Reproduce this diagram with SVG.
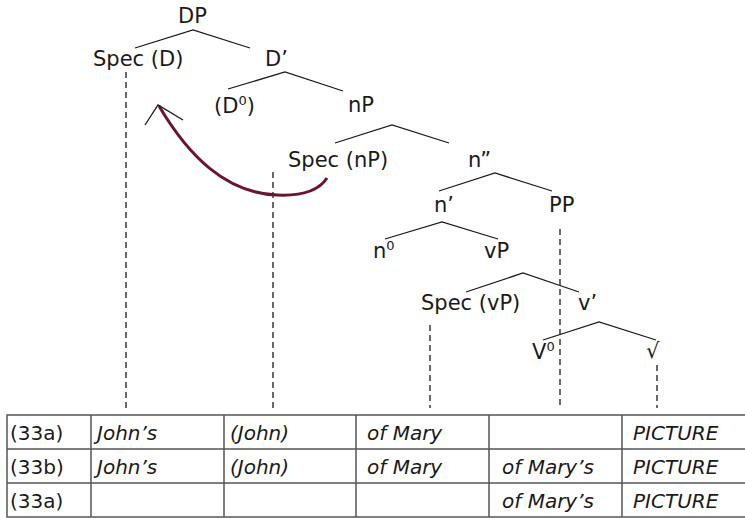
<svg xmlns="http://www.w3.org/2000/svg" width="745" height="518" viewBox="0 0 745 518">
<style>
.t{font-family:"DejaVu Sans","Liberation Sans",sans-serif;font-size:21px;fill:#1a1a1a}
.c{font-family:"DejaVu Sans","Liberation Sans",sans-serif;font-size:20px;fill:#1a1a1a}
.i{font-style:italic}
.b{stroke:#1a1a1a;stroke-width:1.3;fill:none}
.d{stroke:#1a1a1a;stroke-width:1.3;fill:none;stroke-dasharray:6 4}
.g{stroke:#555;stroke-width:1.5;fill:none}
</style>
<rect width="745" height="518" fill="#fff"/>
<g id="connectors">
<polyline class="b" points="135,48 193,30 250,48"/>
<polyline class="b" points="228,89 285,72 343,91"/>
<polyline class="b" points="335,143 392,125 449,143"/>
<polyline class="b" points="439,191 495,173 552,191"/>
<polyline class="b" points="385,239 442,222 498,239"/>
<polyline class="b" points="466,292 523,273 579,292"/>
<polyline class="b" points="543,340 599,322 656,340"/>
<line class="d" x1="126" y1="72" x2="126" y2="408"/>
<line class="d" x1="273" y1="172" x2="273" y2="408"/>
<line class="d" x1="560" y1="229" x2="560" y2="408"/>
<line class="d" x1="430" y1="325" x2="430" y2="408"/>
<line class="d" x1="657" y1="365" x2="657" y2="408"/>
<path d="M327,178 C318,192 300,196 277,195 C225,193 188,155 159,106" stroke="#6b1535" stroke-width="3" fill="none"/>
<polyline class="b" points="145,125 158,105 183,120"/>
</g>
<g id="DP"><text class="t" x="178" y="23">DP</text></g>
<g id="SpecD"><text class="t" x="93" y="66">Spec (D)</text></g>
<g id="Dbar"><text class="t" x="265" y="66">D’</text></g>
<g id="D0"><text class="t" x="214" y="113">(D<tspan font-size="13" dy="-8">0</tspan><tspan dy="8">)</tspan></text></g>
<g id="nP"><text class="t" x="348" y="112">nP</text></g>
<g id="SpecnP"><text class="t" x="288" y="167">Spec (nP)</text></g>
<g id="n2"><text class="t" x="468" y="167">n”</text></g>
<g id="n1"><text class="t" x="434" y="212">n’</text></g>
<g id="PP"><text class="t" x="549" y="212">PP</text></g>
<g id="n0"><text class="t" x="373" y="258">n<tspan font-size="13" dy="-8">0</tspan></text></g>
<g id="vP"><text class="t" x="484" y="258">vP</text></g>
<g id="SpecvP"><text class="t" x="421" y="310">Spec (vP)</text></g>
<g id="vbar"><text class="t" x="578" y="310">v’</text></g>
<g id="V0"><text class="t" x="532" y="359">V<tspan font-size="13" dy="-8">0</tspan></text></g>
<g id="root"><text class="t" x="646" y="358" font-size="23">√</text></g>
<g id="table">
<rect class="g" x="7" y="415" width="740" height="102"/>
<line class="g" x1="7" y1="449" x2="745" y2="449"/>
<line class="g" x1="7" y1="483" x2="745" y2="483"/>
<line class="g" x1="91" y1="415" x2="91" y2="517"/>
<line class="g" x1="224" y1="415" x2="224" y2="517"/>
<line class="g" x1="356" y1="415" x2="356" y2="517"/>
<line class="g" x1="489" y1="415" x2="489" y2="517"/>
<line class="g" x1="622" y1="415" x2="622" y2="517"/>
<text class="c" x="10" y="440">(33a)</text>
<text class="c i" x="97" y="440">John’s</text>
<text class="c i" x="230" y="440">(John)</text>
<text class="c i" x="367" y="440">of Mary</text>
<text class="c i" x="633" y="440">PICTURE</text>
<text class="c" x="10" y="474">(33b)</text>
<text class="c i" x="97" y="474">John’s</text>
<text class="c i" x="230" y="474">(John)</text>
<text class="c i" x="367" y="474">of Mary</text>
<text class="c i" x="502" y="474">of Mary’s</text>
<text class="c i" x="633" y="474">PICTURE</text>
<text class="c" x="10" y="508">(33a)</text>
<text class="c i" x="502" y="508">of Mary’s</text>
<text class="c i" x="633" y="508">PICTURE</text>
</g>
</svg>
